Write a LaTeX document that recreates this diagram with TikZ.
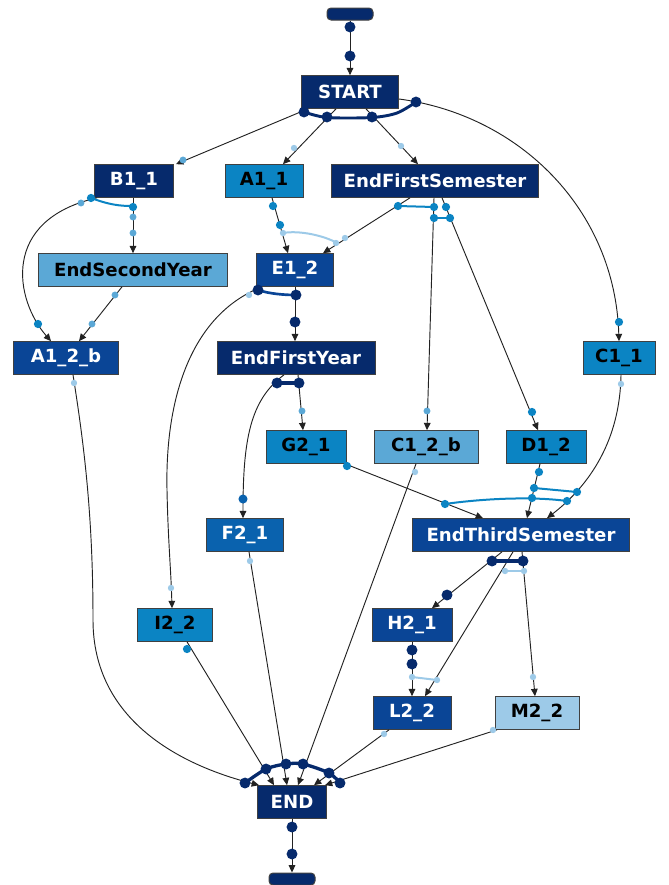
\documentclass[tikz,border=0pt]{standalone}
\usepackage{fontspec}
\setmainfont{DejaVu Sans}
\usetikzlibrary{calc,arrows.meta}
\definecolor{cA}{HTML}{062A6C}
\definecolor{cB}{HTML}{0A4596}
\definecolor{cC}{HTML}{0A62AE}
\definecolor{cD}{HTML}{0B84C3}
\definecolor{cE}{HTML}{5BA8D6}
\definecolor{cF}{HTML}{9DCAE8}
\definecolor{lineC}{HTML}{222222}
\begin{document}
\begin{tikzpicture}[x=0.75pt,y=-0.75pt,
  box/.style={draw=black!75,line width=0.75pt,minimum height=24.5pt,inner sep=0pt,
    font=\fontsize{13.6}{16}\selectfont\bfseries},
  dk/.style={box,fill=#1,text=white},
  lt/.style={box,fill=#1,text=black},
  pill/.style={draw=black!75,line width=0.75pt,fill=cA,rounded corners=3pt,minimum width=34.5pt,minimum height=9pt,inner sep=0pt},
  edge/.style={draw=lineC,line width=0.7pt,-{Triangle[length=5.5pt,width=5pt]}},
  bigdot/.style={fill=cA},
  link/.style={line width=#1,line cap=round}
]
\useasboundingbox (0,0) rectangle (668,885);

% ---- nodes ----
\node[pill] (pT) at (350,14) {};
\node[dk=cA, minimum width=72.75pt] (start) at (350,92) {START};
\node[dk=cA, minimum width=59.25pt] (b11) at (134,181) {B1\_1};
\node[lt=cD, minimum width=58.5pt] (a11) at (264,181) {A1\_1};
\node[dk=cA, minimum width=155.25pt] (efs) at (435,181) {EndFirstSemester};
\node[lt=cE, minimum width=141.75pt] (esy) at (133,270) {EndSecondYear};
\node[dk=cB, minimum width=57.75pt] (e12) at (295,270) {E1\_2};
\node[dk=cB, minimum width=78.75pt] (a12b) at (66,358) {A1\_2\_b};
\node[dk=cA, minimum width=118.5pt] (efy) at (296,358) {EndFirstYear};
\node[lt=cD, minimum width=54pt] (c11) at (619,358) {C1\_1};
\node[lt=cD, minimum width=60pt] (g21) at (306,447) {G2\_1};
\node[lt=cE, minimum width=78pt] (c12b) at (426,447) {C1\_2\_b};
\node[lt=cD, minimum width=60pt] (d12) at (546,447) {D1\_2};
\node[dk=cC, minimum width=57.75pt] (f21) at (245,535) {F2\_1};
\node[dk=cB, minimum width=162.75pt] (ets) at (521,535) {EndThirdSemester};
\node[lt=cD, minimum width=56.25pt] (i22) at (175,625) {I2\_2};
\node[dk=cB, minimum width=60pt] (h21) at (412,625) {H2\_1};
\node[dk=cB, minimum width=58.5pt] (l22) at (412,713) {L2\_2};
\node[lt=cF, minimum width=63pt] (m22) at (537,713) {M2\_2};
\node[dk=cA, minimum width=51.75pt] (endn) at (292,802) {END};
\node[pill] (pB) at (292,879) {};

% ---- connectors ----
\draw[edge] (pT.south) -- (start.north);
\draw[edge] ($(start.south)+(-42,0)$) -- ($(b11.north)+(42,0)$);
\draw[edge] ($(start.south)+(-14,0)$) -- ($(a11.north)+(19,0)$);
\draw[edge] ($(start.south)+(16,0)$) -- ($(efs.north)+(-17,0)$);
\draw[edge] ($(start.east)+(0,7)$) .. controls (520,115) and (615,210) .. ($(c11.north)$);
\draw[edge] ($(b11.south)+(-1,0)$) -- ($(esy.north)+(0,0)$);
\draw[edge] ($(b11.south)+(-37,0)$) .. controls (0,220) and (15,300) .. ($(a12b.north)+(-15,0)$);
\draw[edge] ($(esy.south)+(-11,0)$) -- ($(a12b.north)+(13,0)$);
\draw[edge] ($(a11.south)+(8,0)$) -- ($(e12.north)+(-7,0)$);
\draw[edge] ($(efs.south)+(-25,0)$) -- ($(e12.north)+(28,0)$);
\draw[edge] ($(efs.south)+(-1,0)$) -- ($(c12b.north)+(1,0)$);
\draw[edge] ($(efs.south)+(7,0)$) -- ($(d12.north)+(-8,0)$);
\draw[edge] (e12.south) -- ($(efy.north)+(-1,0)$);
\draw[edge] ($(e12.south)+(-33,0)$) .. controls (190,315) and (165,400) .. (167,490)
   .. controls (168,540) and (171,570) .. ($(i22.north)+(-3,0)$);
\draw[edge] ($(efy.south)+(2,0)$) -- ($(g21.north)+(-3,0)$);
\draw[edge] ($(efy.south)+(-12,0)$) .. controls (250,400) and (243,440) .. ($(f21.north)+(-2,0)$);
\draw[edge] ($(g21.south)+(39,0)$) -- ($(ets.north)+(-38,0)$);
\draw[edge] ($(d12.south)+(-6,0)$) -- ($(ets.north)+(6,0)$);
\draw[edge] ($(c11.south)+(2,0)$) .. controls (620,440) and (590,485) .. ($(ets.north)+(26,0)$);
\draw[edge] ($(ets.south)+(-19,0)$) -- ($(h21.north)+(20,0)$);
\draw[edge] ($(ets.south)+(-8,0)$) -- ($(l22.north)+(13,0)$);
\draw[edge] ($(ets.south)+(1,0)$) -- ($(m22.north)+(-2,0)$);
\draw[edge] (h21.south) -- (l22.north);
\draw[edge] ($(a12b.south)+(7,0)$) .. controls (85,450) and (93,520) .. (93,620)
   .. controls (93,720) and (180,765) .. ($(endn.north)+(-33,0)$);
\draw[edge] ($(i22.south)+(12,0)$) -- ($(endn.north)+(-18,0)$);
\draw[edge] ($(f21.south)+(4,0)$) -- ($(endn.north)+(-5,0)$);
\draw[edge] ($(c12b.south)+(-10,0)$) -- ($(endn.north)+(6,0)$);
\draw[edge] ($(l22.south)+(-23,0)$) -- ($(endn.north)+(22,0)$);
\draw[edge] ($(m22.south)+(-40,0)$) -- ($(endn.north)+(33,0)$);
\draw[edge] (endn.south) -- (pB.north);

% ---- gateway links ----
\draw[cA,link=2.2pt] plot[smooth] coordinates {(304,112) (327,117.5) (372,117.5) (397,113) (416,102)};
\draw[cD,link=1.5pt] (91,198) .. controls (110,205) and (120,206) .. (133,206);
\draw[cF,link=1.5pt] (283,233) .. controls (300,230) and (325,236) .. (337,243);
\draw[cD,link=1.5pt] (398,206) -- (434,207);
\draw[cD,link=1.5pt] (434,218) -- (450,218);
\draw[cB,link=2pt] (258,290) .. controls (270,294) and (285,295) .. (296,295);
\draw[cA,link=2.5pt] (277,383) -- (299,383);
\draw[cD,link=1.5pt] (534,488) -- (577,492);
\draw[cD,link=1.5pt] (445,504) .. controls (480,499) and (530,496) .. (567,501);
\draw[cA,link=2.5pt] (492,561) -- (523,561);
\draw[cF,link=2pt] (505,571) -- (524,571);
\draw[cF,link=1.5pt] (412,677) -- (437,680);
\draw[cA,link=2.5pt] plot[smooth] coordinates {(245,783) (266,769) (286,764) (303,764) (329,773) (340,783)};

% ---- dots ----
\foreach \p in {(350,27),(350,56),(304,112),(327,117),(372,117),(416,102),
  (296,295),(295,322),(258,290),(277,383),(299,383),(492,561),(523,561),(447,595),
  (412,650),(412,664),(245,783),(266,769),(286,764),(303,764),(329,773),(340,783),
  (292,827),(292,854)}
  \fill[cA] \p circle[radius=4.1pt];
\foreach \p in {(619,322),(133,207),(91,198),(38,324),(273,206),(280,225),(398,206),
  (434,207),(446,207),(434,218),(450,218),(532,412),(347,466),(445,504),(539,472),
  (534,488),(532,498),(577,492),(567,501),(187,649)}
  \fill[cD] \p circle[radius=3.1pt];
\fill[cC] (243,499) circle[radius=3.4pt];
\foreach \p in {(183,160),(133,217),(133,233),(81,203),(115,295),(92,324),(302,411),(427,411)}
  \fill[cE] \p circle[radius=2.6pt];
\foreach \p in {(294,148),(401,146),(283,233),(345,238),(336,243),(249,295),(171,588),
  (621,384),(505,571),(524,571),(437,680),(412,677),(533,677),(74,383),(250,561),
  (415,472),(384,734),(493,730)}
  \fill[cF] \p circle[radius=2.4pt];
\end{tikzpicture}
\end{document}
